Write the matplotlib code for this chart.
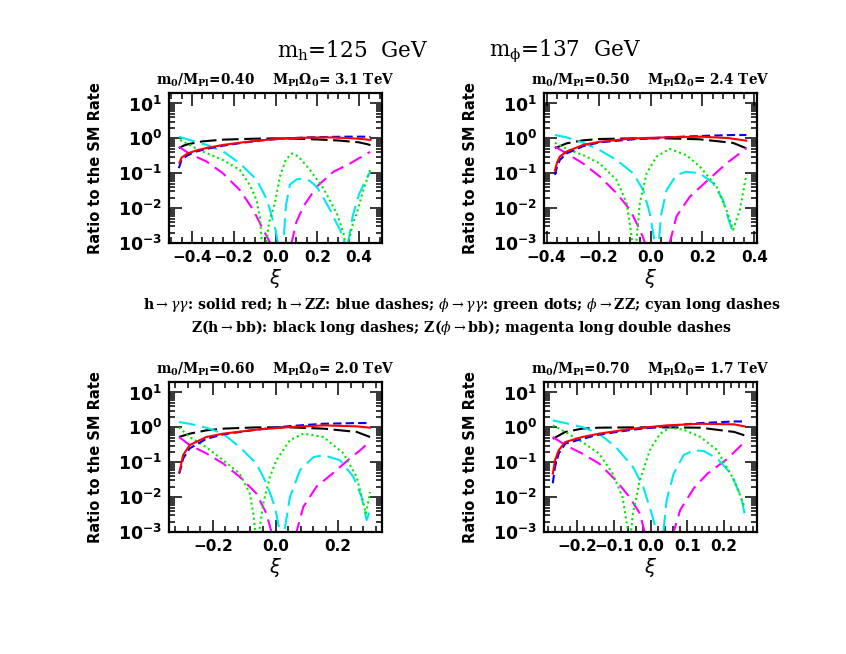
import numpy as np
import matplotlib
matplotlib.use('Agg')
import matplotlib.pyplot as plt
from matplotlib.ticker import MultipleLocator, LogLocator, FuncFormatter, NullFormatter

plt.rcParams['mathtext.fontset'] = 'dejavusans'
plt.rcParams['lines.scale_dashes'] = False

# panel settings
m0_ratio = ['0.40', '0.50', '0.60', '0.70']
omega0 = ['3.1', '2.4', '2.0', '1.7']
xlims = [(-0.51, 0.51), (-0.41, 0.41), (-0.34, 0.34), (-0.29, 0.29)]
major_step = [0.2, 0.2, 0.2, 0.1]
minor_step = [0.05, 0.04, 0.04, 0.02]

# ---- panel 1 : m0/MPl = 0.40 ----
p1_hgg_x = [-0.46, -0.45, -0.42, -0.38, -0.33, -0.25, -0.15, -0.05, 0.05, 0.15, 0.25, 0.35, 0.42, 0.455]
p1_hgg = [0.20, 0.28, 0.37, 0.45, 0.53, 0.65, 0.78, 0.90, 1.0, 1.05, 1.07, 1.02, 0.95, 0.90]
p1_hzz_x = [-0.463, -0.45, -0.42, -0.38, -0.33, -0.25, -0.15, -0.05, 0.05, 0.15, 0.25, 0.35, 0.42, 0.455]
p1_hzz = [0.14, 0.24, 0.33, 0.42, 0.50, 0.62, 0.76, 0.90, 1.0, 1.06, 1.1, 1.12, 1.12, 1.1]
p1_zhbb_x = [-0.463, -0.44, -0.42, -0.35, -0.25, -0.1, 0.0, 0.1, 0.2, 0.3, 0.4, 0.44, 0.455]
p1_zhbb = [0.52, 0.62, 0.68, 0.82, 0.92, 0.98, 1.0, 0.98, 0.93, 0.87, 0.77, 0.68, 0.64]
p1_pzz_x = [-0.463, -0.40, -0.33, -0.25, -0.17, -0.09, -0.04, 0.0, 0.012, 0.025, 0.038, 0.05, 0.069,
            0.10, 0.133, 0.165, 0.197, 0.229, 0.261, 0.285, 0.309, 0.333, 0.34, 0.348, 0.37, 0.40, 0.43, 0.453]
p1_pzz = [1.12, 0.86, 0.65, 0.42, 0.19, 0.065, 0.017, 0.0024, 0.001, 1e-4, 0.001, 0.012, 0.047,
          0.066, 0.072, 0.06, 0.041, 0.02, 0.009, 0.0045, 0.0024, 0.001, 1e-4, 0.001, 0.006, 0.025, 0.06, 0.11]
p1_pgg_x = [-0.457, -0.364, -0.252, -0.171, -0.123, -0.091, -0.075, -0.065, -0.055, -0.045, -0.03,
            -0.003, 0.021, 0.05, 0.08, 0.11, 0.165, 0.229, 0.293, 0.325, 0.333, 0.34, 0.348, 0.37, 0.389, 0.421, 0.453]
p1_pgg = [0.9, 0.46, 0.24, 0.125, 0.046, 0.017, 0.0055, 0.001, 1e-4, 0.001, 0.004,
          0.014, 0.08, 0.25, 0.37, 0.3, 0.125, 0.037, 0.0072, 0.002, 0.001, 1e-4, 0.001, 0.0035, 0.0072, 0.033, 0.125]
p1_zpbb_x = [-0.463, -0.412, -0.332, -0.252, -0.171, -0.107, -0.059, -0.035, -0.025, 0.025, 0.077,
             0.10, 0.133, 0.197, 0.277, 0.357, 0.40, 0.453]
p1_zpbb = [0.58, 0.36, 0.22, 0.1, 0.033, 0.009, 0.0024, 0.0013, 0.001, 1e-4, 0.001,
           0.004, 0.011, 0.041, 0.11, 0.19, 0.27, 0.41]

# ---- panel 2 : m0/MPl = 0.50 ----
p2_hgg_x = [-0.368, -0.36, -0.349, -0.323, -0.259, -0.195, -0.067, 0.062, 0.19, 0.30, 0.369]
p2_hgg = [0.12, 0.2, 0.30, 0.42, 0.65, 0.80, 1.0, 1.07, 1.12, 1.02, 0.86]
p2_hzz_x = [-0.368, -0.36, -0.349, -0.323, -0.259, -0.195, -0.067, 0.062, 0.19, 0.318, 0.369]
p2_hzz = [0.09, 0.15, 0.24, 0.37, 0.60, 0.77, 0.94, 1.07, 1.17, 1.25, 1.25]
p2_zhbb_x = [-0.368, -0.323, -0.259, -0.195, -0.067, 0.062, 0.19, 0.318, 0.369]
p2_zhbb = [0.52, 0.72, 0.88, 0.96, 1.0, 1.0, 0.94, 0.74, 0.52]
p2_pzz_x = [-0.368, -0.323, -0.259, -0.195, -0.131, -0.067, -0.028, -0.003, 0.017, 0.025, 0.032,
            0.04, 0.062, 0.10, 0.138, 0.19, 0.241, 0.279, 0.305, 0.318]
p2_pzz = [1.25, 1.07, 0.75, 0.46, 0.24, 0.1, 0.033, 0.0072, 0.001, 1e-4, 0.001,
          0.006, 0.033, 0.09, 0.11, 0.1, 0.052, 0.017, 0.0037, 0.002]
p2_pgg_x = [-0.368, -0.323, -0.259, -0.195, -0.131, -0.092, -0.078, -0.07, -0.062, -0.055, -0.041,
            -0.015, 0.023, 0.074, 0.138, 0.19, 0.254, 0.292, 0.318, 0.344, 0.369]
p2_pgg = [0.75, 0.5, 0.33, 0.19, 0.065, 0.014, 0.003, 0.001, 1e-4, 0.001, 0.014,
          0.1, 0.3, 0.5, 0.33, 0.155, 0.042, 0.009, 0.0024, 0.009, 0.09]
p2_zpbb_x = [-0.368, -0.323, -0.259, -0.195, -0.131, -0.079, -0.041, -0.028, -0.022, 0.025, 0.074,
             0.1, 0.151, 0.215, 0.292, 0.369]
p2_zpbb = [0.58, 0.37, 0.19, 0.08, 0.027, 0.009, 0.0024, 0.0014, 0.001, 1e-4, 0.001,
           0.0058, 0.021, 0.058, 0.19, 0.52]

# ---- panel 3 : m0/MPl = 0.60 ----
p3_hgg_x = [-0.306, -0.30, -0.295, -0.274, -0.221, -0.167, -0.061, 0.046, 0.153, 0.259, 0.302]
p3_hgg = [0.053, 0.10, 0.16, 0.31, 0.53, 0.66, 0.86, 1.02, 1.14, 1.07, 0.98]
p3_hzz_x = [-0.308, -0.30, -0.295, -0.274, -0.221, -0.167, -0.061, 0.046, 0.153, 0.259, 0.302]
p3_hzz = [0.047, 0.08, 0.127, 0.25, 0.47, 0.63, 0.86, 1.09, 1.27, 1.33, 1.33]
p3_zhbb_x = [-0.308, -0.274, -0.221, -0.167, -0.061, 0.046, 0.153, 0.259, 0.302]
p3_zhbb = [0.53, 0.66, 0.82, 0.92, 1.0, 1.0, 0.92, 0.74, 0.53]
p3_pzz_x = [-0.308, -0.274, -0.221, -0.167, -0.114, -0.061, -0.029, -0.002, 0.014, 0.021, 0.028,
            0.046, 0.078, 0.121, 0.153, 0.206, 0.249, 0.275, 0.286, 0.291, 0.302]
p3_pzz = [1.42, 1.27, 0.98, 0.66, 0.27, 0.092, 0.025, 0.0053, 0.001, 1e-4, 0.001,
          0.01, 0.059, 0.14, 0.16, 0.114, 0.038, 0.01, 0.0034, 0.0022, 0.0043]
p3_pgg_x = [-0.308, -0.274, -0.221, -0.167, -0.114, -0.082, -0.07, -0.064, -0.058, -0.052, -0.039,
            -0.018, 0.003, 0.046, 0.089, 0.153, 0.217, 0.259, 0.281, 0.289, 0.302]
p3_pgg = [1.0, 0.53, 0.27, 0.114, 0.047, 0.0127, 0.003, 0.001, 1e-4, 0.001, 0.0066,
          0.038, 0.114, 0.43, 0.66, 0.53, 0.18, 0.038, 0.0066, 0.0034, 0.014]
p3_zpbb_x = [-0.308, -0.274, -0.221, -0.167, -0.114, -0.061, -0.029, -0.013, 0.027, 0.067,
             0.089, 0.131, 0.185, 0.238, 0.27, 0.302]
p3_zpbb = [0.53, 0.31, 0.18, 0.092, 0.038, 0.0127, 0.0034, 0.001, 1e-4, 0.001,
           0.0053, 0.02, 0.05, 0.13, 0.22, 0.40]

# ---- panel 4 : m0/MPl = 0.70 ----
p4_hgg_x = [-0.266, -0.26, -0.25, -0.232, -0.186, -0.14, -0.048, 0.044, 0.136, 0.228, 0.256]
p4_hgg = [0.047, 0.114, 0.22, 0.38, 0.53, 0.66, 0.92, 1.14, 1.27, 1.22, 1.07]
p4_hzz_x = [-0.266, -0.26, -0.25, -0.232, -0.186, -0.14, -0.048, 0.044, 0.136, 0.228, 0.256]
p4_hzz = [0.025, 0.074, 0.177, 0.34, 0.47, 0.62, 0.86, 1.09, 1.33, 1.48, 1.48]
p4_zhbb_x = [-0.266, -0.232, -0.186, -0.14, -0.048, 0.044, 0.136, 0.228, 0.256]
p4_zhbb = [0.47, 0.74, 0.92, 0.98, 1.0, 1.0, 0.98, 0.74, 0.59]
p4_pzz_x = [-0.266, -0.232, -0.186, -0.14, -0.094, -0.048, -0.02, 0.003, 0.017, 0.026, 0.035,
            0.044, 0.063, 0.09, 0.118, 0.145, 0.182, 0.219, 0.247, 0.256]
p4_pzz = [1.58, 1.33, 1.02, 0.66, 0.27, 0.074, 0.02, 0.0034, 0.001, 1e-4, 0.001,
          0.0082, 0.047, 0.16, 0.22, 0.21, 0.127, 0.047, 0.01, 0.0034]
p4_pgg_x = [-0.266, -0.232, -0.186, -0.14, -0.103, -0.076, -0.066, -0.061, -0.057, -0.053, -0.048,
            -0.029, -0.002, 0.026, 0.053, 0.09, 0.136, 0.182, 0.228, 0.256]
p4_pgg = [1.14, 0.74, 0.38, 0.177, 0.047, 0.01, 0.0022, 0.001, 1e-4, 0.001, 0.0034,
          0.03, 0.22, 0.66, 0.98, 0.86, 0.53, 0.22, 0.03, 0.0053]
p4_zpbb_x = [-0.266, -0.232, -0.186, -0.14, -0.094, -0.057, -0.029, -0.016, 0.023, 0.063,
             0.081, 0.118, 0.155, 0.21, 0.256]
p4_zpbb = [0.53, 0.31, 0.177, 0.092, 0.03, 0.01, 0.0034, 0.001, 1e-4, 0.001,
           0.0043, 0.018, 0.047, 0.127, 0.38]

panels = [
    [(p1_hgg_x, p1_hgg), (p1_hzz_x, p1_hzz), (p1_pgg_x, p1_pgg), (p1_pzz_x, p1_pzz), (p1_zhbb_x, p1_zhbb), (p1_zpbb_x, p1_zpbb)],
    [(p2_hgg_x, p2_hgg), (p2_hzz_x, p2_hzz), (p2_pgg_x, p2_pgg), (p2_pzz_x, p2_pzz), (p2_zhbb_x, p2_zhbb), (p2_zpbb_x, p2_zpbb)],
    [(p3_hgg_x, p3_hgg), (p3_hzz_x, p3_hzz), (p3_pgg_x, p3_pgg), (p3_pzz_x, p3_pzz), (p3_zhbb_x, p3_zhbb), (p3_zpbb_x, p3_zpbb)],
    [(p4_hgg_x, p4_hgg), (p4_hzz_x, p4_hzz), (p4_pgg_x, p4_pgg), (p4_pzz_x, p4_pzz), (p4_zhbb_x, p4_zhbb), (p4_zpbb_x, p4_zpbb)],
]

# style per channel: hgg, hzz, pgg, pzz, zhbb, zpbb
colors = ['#ff0000', '#0000ff', '#00e600', '#00e8f0', '#000000', '#ff00ff']
dashes = [None, (6, 3), (1.5, 2.2), (12, 5), (12, 4), (10, 5)]
order = [4, 5, 3, 2, 1, 0]

fig = plt.figure(figsize=(8.46, 6.54), dpi=100)

boxes = [(169, 93), (544, 93), (169, 382), (544, 382)]
W, H = 846., 654.

def log_fmt(v, pos):
    return r'$\mathbf{10^{%d}}$' % int(round(np.log10(v)))

for i in range(4):
    left, top = boxes[i]
    ax = fig.add_axes([left / W, 1 - (top + 150) / H, 213 / W, 150 / H])
    for k in order:
        xs, ys = panels[i][k]
        line, = ax.plot(xs, ys, color=colors[k], lw=1.5)
        if dashes[k] is not None:
            line.set_dashes(dashes[k])
    ax.set_yscale('log')
    ax.set_ylim(1e-3, 20)
    ax.set_xlim(*xlims[i])
    ax.xaxis.set_major_locator(MultipleLocator(major_step[i]))
    ax.xaxis.set_minor_locator(MultipleLocator(minor_step[i]))
    ax.yaxis.set_major_locator(LogLocator(base=10, numticks=10))
    ax.yaxis.set_minor_locator(LogLocator(base=10, subs=np.arange(2, 10), numticks=20))
    ax.yaxis.set_major_formatter(FuncFormatter(log_fmt))
    ax.yaxis.set_minor_formatter(NullFormatter())
    ax.xaxis.set_major_formatter(FuncFormatter(lambda v, p: ('%.1f' % v).replace('-', '\u2212') if abs(v) > 1e-9 else '0.0'))
    ax.tick_params(which='both', direction='in', top=True, right=True, width=1.1)
    ax.tick_params(which='major', length=9, labelsize=11, pad=5)
    ax.tick_params(axis='y', which='major', labelsize=12.5)
    ax.tick_params(which='minor', length=4.5)
    for lab in ax.get_xticklabels():
        lab.set_fontweight('bold')
    for s in ax.spines.values():
        s.set_linewidth(1.6)
    ax.set_xlabel(r'$\xi$', fontsize=14)
    ax.xaxis.set_label_coords(0.5, -0.16)
    ax.set_ylabel('Ratio to the SM Rate', fontsize=10.5, fontweight='bold')
    ax.yaxis.set_label_coords(-0.31, 0.5)
    ax.text(0.5, 1.085, r'$\mathbf{m_0/M_{Pl}}$=%s    $\mathbf{M_{Pl}\Omega_0}$= %s TeV' % (m0_ratio[i], omega0[i]),
            transform=ax.transAxes, ha='center', va='center', fontsize=9.8, fontweight='bold',
            family='DejaVu Serif', math_fontfamily='dejavuserif')

fig.text(353 / W, 1 - 51 / H, r'$\mathrm{m_h}$=125  GeV', ha='center', va='center', fontsize=15.5,
         family='DejaVu Serif', math_fontfamily='dejavuserif')
fig.text(565 / W, 1 - 51 / H, r'$\mathrm{m_\phi}$=137  GeV', ha='center', va='center', fontsize=15.5,
         family='DejaVu Serif', math_fontfamily='dejavuserif')

fig.text(462 / W, 1 - 305 / H,
         r'h$\rightarrow\gamma\gamma$: solid red; h$\rightarrow$ZZ: blue dashes; $\phi\rightarrow\gamma\gamma$: green dots; $\phi\rightarrow$ZZ; cyan long dashes',
         ha='center', va='center', fontsize=10.2, fontweight='bold', family='DejaVu Serif', math_fontfamily='dejavuserif')
fig.text(462 / W, 1 - 328 / H,
         r'Z(h$\rightarrow$bb): black long dashes; Z($\phi\rightarrow$bb); magenta long double dashes',
         ha='center', va='center', fontsize=10.2, fontweight='bold', family='DejaVu Serif', math_fontfamily='dejavuserif')

fig.savefig('out.png', dpi=100)
